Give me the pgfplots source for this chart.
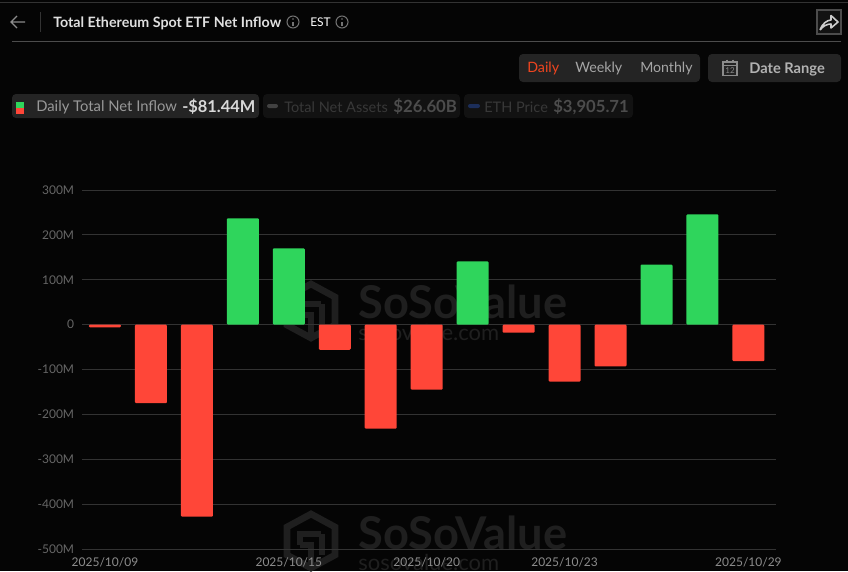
\documentclass[border=0pt]{standalone}
\usepackage{fontspec}
\setmainfont{Lato}
\usepackage{pgfplots}
\pgfplotsset{compat=1.18}
\definecolor{pagebg}{HTML}{050505}
\definecolor{upbar}{HTML}{2FD55C}
\definecolor{downbar}{HTML}{FF4638}
\definecolor{gridc}{HTML}{333333}
\definecolor{boxa}{HTML}{242424}
\definecolor{boxb}{HTML}{121212}
\definecolor{wm}{HTML}{1F1F1F}
\definecolor{dailyc}{HTML}{F0451F}
\definecolor{navy}{HTML}{1C2E5A}
\newcommand{\fs}[1]{\fontsize{#1}{#1}\selectfont}
\newcommand{\infoicon}[2]{%
  \draw[color=white!45!black,line width=0.8] (#1,#2) circle (6);
  \fill[white!45!black] (#1-0.7,#2-0.5) rectangle (#1+0.7,#2+3.5);
  \fill[white!45!black] (#1,#2-3) circle (0.9);}
\newcommand{\logo}[2]{%
  \begin{scope}[shift={(#1,#2)}]
  \draw[wm,line width=5,line join=miter] (0,-27) -- (24,-14) -- (24,14) -- (0,27) -- (-24,14) -- (-24,-14) -- cycle;
  \draw[wm,line width=4] (-11,4) -- (-11,-7) -- (10,-7) (-11,4) -- (0,4) -- (0,27) (11,-7) -- (11,14);
  \end{scope}}
\pgfplotstableread{
x y
3 237
4 170
8 141
12 134
13 246
}\inflowdata
\pgfplotstableread{
x y
0 -6
1 -175
2 -428
5 -56
6 -232
7 -145
9 -18
10 -127
11 -93
14 -81.44
}\outflowdata
\begin{document}
\begin{tikzpicture}[x=0.75pt,y=-0.75pt,every node/.style={inner sep=0pt,anchor=west}]
\useasboundingbox (0,0) rectangle (848,571);
\clip (0,0) rectangle (848,571);
\fill[pagebg] (0,0) rectangle (848,571);
% header
\draw[color=gridc,line width=1] (0,2.3) -- (848,2.3);
\draw[color=white!55!black,line width=1] (25,22) -- (11,22) (17,16) -- (11,22) -- (17,28);
\draw[color=gridc,line width=1] (40.5,12) -- (40.5,32);
\node[text=white!88!black] at (53,23) {\fs{10.7}\bfseries Total Ethereum Spot ETF Net Inflow};
\infoicon{293}{22}
\node[text=white] at (310,22) {\fs{9}EST};
\infoicon{342}{22}
\draw[color=white!30!black,line width=1] (12,41.5) -- (841,41.5);
\draw[color=white!30!black,fill=boxb,line width=0.8] (817,10) rectangle (841,34);
\draw[color=white!80!black,line width=1.2,line join=round] (820,30) .. controls (822,24) and (827,20) .. (831,20) -- (831,15.5) -- (838,22) -- (831,28) -- (831,24) .. controls (827,24) and (823,26) .. (820,30);
% period buttons
\fill[boxa,rounded corners=3] (519,54) rectangle (700,82);
\fill[boxa,rounded corners=3] (708,54) rectangle (841,82);
\node[text=dailyc] at (527,68.5) {\fs{10.7}Daily};
\node[text=white!65!black] at (575,68.5) {\fs{10.7}Weekly};
\node[text=white!65!black] at (640,68.5) {\fs{10.6}Monthly};
\draw[color=white!55!black,line width=1] (723,62) rectangle (737,75.5) (723,65.5) -- (737,65.5) (727,59.5) -- (727,62) (733,59.5) -- (733,62);
\node[text=white!55!black,anchor=center] at (730,70.7) {\fs{6}12};
\node[text=white!70!black] at (749,69.5) {\fs{11}\bfseries Date Range};
% legend chips
\fill[boxa,rounded corners=3] (12,94) rectangle (259,118);
\fill[upbar] (16,102) rectangle (24,108);
\fill[downbar] (16,108) rectangle (24,114);
\node[text=white!60!black] at (36,107.5) {\fs{11.1}Daily Total Net Inflow};
\node[text=white!85!black] at (182,106.5) {\fs{12.3}\bfseries -\$81.44M};
\fill[boxb,rounded corners=3] (263,94) rectangle (460,118);
\fill[white!26!black,rounded corners=1.5] (267,104) rectangle (278,108);
\node[text=white!22!black] at (284,107.5) {\fs{10.9}Total Net Assets};
\node[text=white!30!black] at (393,106.5) {\fs{12.6}\bfseries \$26.60B};
\fill[boxb,rounded corners=3] (464,94) rectangle (633,118);
\fill[navy,rounded corners=1.5] (468,104) rectangle (480,108);
\node[text=white!22!black] at (484,107.5) {\fs{10.9}ETH Price};
\node[text=white!30!black] at (553,106.5) {\fs{12.5}\bfseries \$3,905.71};
% watermarks
\logo{311}{311}
\node[text=wm] at (358,302) {\fs{33.9}\bfseries SoSoValue};
\node[text=wm] at (358,332) {\fs{16.5}sosovalue.com};
\logo{311}{541}
\node[text=wm] at (358,533) {\fs{33.9}\bfseries SoSoValue};
\node[text=wm] at (358,562) {\fs{16.5}sosovalue.com};
% chart
\begin{scope}[x=1pt,y=1pt]
\begin{axis}[
    at={(61.5pt,-411.75pt)},
    anchor=south west,
    scale only axis,
    width=520.5pt,
    height=269.25pt,
    xmin=-0.5, xmax=14.6,
    ymin=-500, ymax=300,
    ytick={-500,-400,-300,-200,-100,0,100,200,300},
    yticklabels={-500M,-400M,-300M,-200M,-100M,0,100M,200M,300M},
    xtick={0,4,7,10,14},
    xticklabels={2025/10/09,2025/10/15,2025/10/20,2025/10/23,2025/10/29},
    axis line style={draw=none},
    tick style={draw=none},
    ymajorgrids,
    grid style={gridc,line width=0.75pt},
    yticklabel style={font=\fs{9},text=white!40!black,anchor=east,xshift=-5.7pt},
    xticklabel style={font=\fs{9},text=white!55!black,anchor=center,yshift=-5.7pt},
    ybar,
    bar width=24pt,
    bar shift=0pt,
]
\addplot[fill=upbar,draw=none,rounded corners=0.8pt] table[x=x,y=y] {\inflowdata};
\addplot[fill=downbar,draw=none,rounded corners=0.8pt] table[x=x,y=y] {\outflowdata};
\end{axis}
\end{scope}
\end{tikzpicture}
\end{document}
